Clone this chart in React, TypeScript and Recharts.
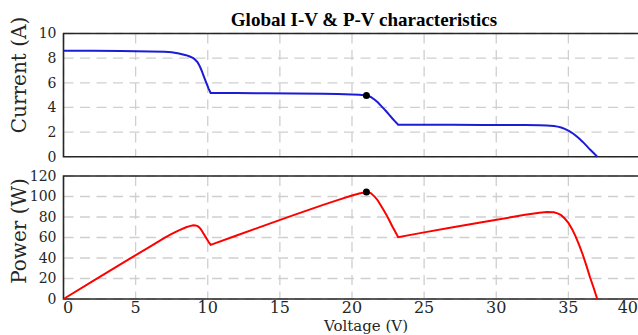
import React from 'react';
import {
  LineChart,
  Line,
  XAxis,
  YAxis,
  CartesianGrid,
  ReferenceDot,
  ReferenceArea,
} from 'recharts';

// Operating points of the partially shaded PV string (voltage in V)
const voltage = [
  0, 2, 4, 6, 7, 7.5, 8, 8.5, 8.75, 9, 9.15, 9.3, 9.4, 9.5, 9.6, 9.7, 9.8, 9.9, 10.05, 10.2,
  12, 14, 16, 18, 19, 20, 20.5, 21, 21.3, 21.6, 21.8, 22, 22.2, 22.4, 22.6, 22.8, 23, 23.2,
  25, 27, 29, 31, 32, 33, 33.5, 34, 34.25, 34.5, 34.75, 35, 35.25, 35.5, 35.75, 36, 36.25, 36.5, 36.75, 37,
];

// Current at each voltage (A)
const current = [
  8.6, 8.59, 8.57, 8.54, 8.51, 8.48, 8.38, 8.24, 8.13, 8.0, 7.85, 7.65, 7.45, 7.2, 6.92, 6.6, 6.3, 6.0, 5.55, 5.18,
  5.17, 5.15, 5.13, 5.1, 5.08, 5.05, 5.02, 4.97, 4.85, 4.6, 4.4, 4.15, 3.9, 3.65, 3.38, 3.1, 2.85, 2.6,
  2.6, 2.59, 2.58, 2.57, 2.565, 2.55, 2.53, 2.49, 2.44, 2.37, 2.26, 2.12, 1.94, 1.72, 1.47, 1.2, 0.9, 0.58, 0.3, 0,
];

// Power at each voltage (W)
const power = [
  0, 17.2, 34.3, 51.2, 59.6, 63.6, 67.0, 70.0, 71.1, 72.0, 71.8, 71.1, 70.0, 68.4, 66.4, 64.0, 61.7, 59.4, 55.8, 52.8,
  62.0, 72.1, 82.1, 91.8, 96.5, 101.0, 102.9, 104.4, 103.3, 99.4, 95.9, 91.3, 86.6, 81.8, 76.4, 70.7, 65.6, 60.3,
  65.0, 69.9, 74.8, 79.7, 82.1, 84.2, 84.8, 84.7, 83.6, 81.8, 78.5, 74.2, 68.4, 61.1, 52.6, 43.2, 32.6, 21.2, 11.0, 0,
];

// Global maximum power point
const mppVoltage = 21.0;
const mppCurrent = 4.97;
const mppPower = 104.4;

const voltageTicks = [0, 5, 10, 15, 20, 25, 30, 35, 40];
const currentTicks = [0, 2, 4, 6, 8, 10];
const powerTicks = [0, 20, 40, 60, 80, 100, 120];

const rows = voltage.map((v, k) => ({ v, i: current[k], p: power[k] }));

const AXIS_COLOR = '#262626';
const GRID_COLOR = '#cfcfcf';
const TICK_FONT = 'DejaVu Serif';

const yTickStyle = { fontFamily: TICK_FONT, fontSize: 14, fill: AXIS_COLOR };

const VoltageTick = (props: any) => {
  const { x, y, payload } = props;
  const value = payload.value;
  let anchor: 'start' | 'middle' | 'end' = 'middle';
  let tx = x;
  if (value === 0) {
    anchor = 'start';
    tx = x - 0.5;
  } else if (value === 40) {
    anchor = 'end';
    tx = x - 2.5;
  }
  return (
    <text
      x={tx}
      y={y}
      dy="0.71em"
      textAnchor={anchor}
      fontFamily={TICK_FONT}
      fontSize={16}
      fill={AXIS_COLOR}
    >
      {value}
    </text>
  );
};

const CHART_W = 700;

export default function App() {
  return (
    <div
      style={{
        position: 'absolute',
        left: 0,
        top: 0,
        width: 638,
        height: 335,
        overflow: 'hidden',
        background: '#ffffff',
      }}
    >
      {/* I-V curve */}
      <div style={{ position: 'absolute', left: 0, top: 0 }}>
        <LineChart
          width={CHART_W}
          height={170}
          data={rows}
          margin={{ top: 33.5, right: CHART_W - 640.5, bottom: 170 - 156.7, left: 0 }}
        >
          <CartesianGrid stroke={GRID_COLOR} strokeWidth={1.3} strokeDasharray="10 6.5" />
          <XAxis
            dataKey="v"
            type="number"
            domain={[0, 40]}
            ticks={voltageTicks}
            allowDataOverflow
            hide
          />
          <YAxis
            type="number"
            domain={[0, 10]}
            ticks={currentTicks}
            width={63.5}
            axisLine={false}
            tickLine={false}
            tickSize={5}
            tickMargin={2}
            tick={yTickStyle}
            interval={0}
          />
          <ReferenceArea
            x1={0}
            x2={40}
            y1={0}
            y2={10}
            fill="none"
            fillOpacity={0}
            stroke={AXIS_COLOR}
            strokeWidth={1.6}
          />
          <Line
            type="linear"
            dataKey="i"
            stroke="#1c1cd8"
            strokeWidth={2}
            dot={false}
            isAnimationActive={false}
          />
          <ReferenceDot x={mppVoltage} y={mppCurrent} r={3.5} fill="#000000" stroke="none" />
        </LineChart>
      </div>

      {/* P-V curve */}
      <div style={{ position: 'absolute', left: 0, top: 165 }}>
        <LineChart
          width={CHART_W}
          height={170}
          data={rows}
          margin={{ top: 11, right: CHART_W - 640.5, bottom: 0, left: 0 }}
        >
          <CartesianGrid stroke={GRID_COLOR} strokeWidth={1.3} strokeDasharray="10 6.5" />
          <XAxis
            dataKey="v"
            type="number"
            domain={[0, 40]}
            ticks={voltageTicks}
            allowDataOverflow
            height={36}
            axisLine={false}
            tickLine={false}
            tickSize={2}
            tickMargin={1}
            tick={<VoltageTick />}
            interval={0}
          />
          <YAxis
            type="number"
            domain={[0, 120]}
            ticks={powerTicks}
            width={63.5}
            axisLine={false}
            tickLine={false}
            tickSize={5}
            tickMargin={2}
            tick={yTickStyle}
            interval={0}
          />
          <ReferenceArea
            x1={0}
            x2={40}
            y1={0}
            y2={120}
            fill="none"
            fillOpacity={0}
            stroke={AXIS_COLOR}
            strokeWidth={1.6}
          />
          <Line
            type="linear"
            dataKey="p"
            stroke="#ff0000"
            strokeWidth={2}
            dot={false}
            isAnimationActive={false}
          />
          <ReferenceDot x={mppVoltage} y={mppPower} r={3.5} fill="#000000" stroke="none" />
        </LineChart>
      </div>

      {/* Title and axis labels */}
      <svg
        width={638}
        height={335}
        style={{ position: 'absolute', left: 0, top: 0, pointerEvents: 'none' }}
      >
        <text
          x={364}
          y={26}
          textAnchor="middle"
          fontFamily="Liberation Serif"
          fontWeight="bold"
          fontSize={19}
          fill="#000000"
        >
          Global I-V &amp; P-V characteristics
        </text>
        <text
          transform="translate(26,75) rotate(-90)"
          textAnchor="middle"
          fontFamily="DejaVu Serif"
          fontSize={20}
          fill={AXIS_COLOR}
        >
          Current (A)
        </text>
        <text
          transform="translate(26,231) rotate(-90)"
          textAnchor="middle"
          fontFamily="DejaVu Serif"
          fontSize={20}
          fill={AXIS_COLOR}
        >
          Power (W)
        </text>
        <text
          x={366}
          y={331.2}
          textAnchor="middle"
          fontFamily="DejaVu Serif"
          fontSize={15}
          fill={AXIS_COLOR}
        >
          Voltage (V)
        </text>
      </svg>
    </div>
  );
}
